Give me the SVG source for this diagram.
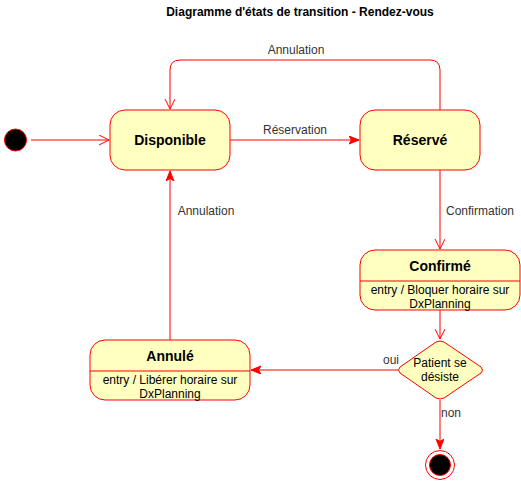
<svg xmlns="http://www.w3.org/2000/svg" width="521" height="481" viewBox="0 0 521 481">
<defs>
<style>
.st{fill:#ffffc0;stroke:#ff0000;stroke-width:1}
.ln{fill:none;stroke:#ff0000;stroke-width:1}
.t{font-family:"Liberation Sans",Arial,sans-serif;font-size:12px;fill:#000}
.b{font-family:"Liberation Sans",Arial,sans-serif;font-size:14px;font-weight:bold;fill:#000}
.lb{font-family:"Liberation Sans",Arial,sans-serif;font-size:12px;fill:#333}
</style>
<marker id="open" markerWidth="12" markerHeight="12" refX="10" refY="5" orient="auto" markerUnits="userSpaceOnUse">
<path d="M0,0 L10,5 L0,10" fill="none" stroke="#ff0000" stroke-width="1"/>
</marker>
<marker id="fill" markerWidth="12" markerHeight="12" refX="10" refY="4" orient="auto" markerUnits="userSpaceOnUse">
<path d="M0,0 L10,4 L0,8 L2.5,4 Z" fill="#ff0000" stroke="#ff0000" stroke-width="1"/>
</marker>
</defs>
<rect width="521" height="481" fill="#fff"/>
<text class="t" x="300" y="16" text-anchor="middle" font-weight="bold">Diagramme d'états de transition - Rendez-vous</text>

<g id="connectors">
<path class="ln" d="M31,140 L109,140" marker-end="url(#open)"/>
<path class="ln" d="M230,140 L359,140" marker-end="url(#fill)"/>
<text class="lb" x="295" y="134" text-anchor="middle">Réservation</text>
<path class="ln" d="M440,110 L440,70 Q440,60 430,60 L180,60 Q170,60 170,70 L170,109" marker-end="url(#open)"/>
<text class="lb" x="296" y="54" text-anchor="middle">Annulation</text>
<path class="ln" d="M440,170 L440,249" marker-end="url(#open)"/>
<text class="lb" x="480" y="215" text-anchor="middle">Confirmation</text>
<path class="ln" d="M440,310 L440,339" marker-end="url(#open)"/>
<path class="ln" d="M398,370 L251,370" marker-end="url(#fill)"/>
<text class="lb" x="391" y="364" text-anchor="middle">oui</text>
<path class="ln" d="M170,340 L170,171" marker-end="url(#fill)"/>
<text class="lb" x="206" y="215" text-anchor="middle">Annulation</text>
<path class="ln" d="M440,400 L440,449" marker-end="url(#fill)"/>
<text class="lb" x="451" y="417" text-anchor="middle">non</text>
</g>

<g id="initial">
<circle cx="15.5" cy="140" r="11" fill="#000" stroke="#ff0000" stroke-width="1"/>
</g>

<g id="disponible">
<rect class="st" x="110" y="110" width="120" height="60" rx="15" ry="15"/>
<text class="b" x="170" y="145" text-anchor="middle">Disponible</text>
</g>

<g id="reserve">
<rect class="st" x="360" y="110" width="120" height="60" rx="15" ry="15"/>
<text class="b" x="420" y="145" text-anchor="middle">Réservé</text>
</g>

<g id="confirme">
<rect class="st" x="360" y="250" width="160" height="60" rx="15" ry="15"/>
<line class="ln" x1="360" y1="281" x2="520" y2="281"/>
<text class="b" x="440" y="271" text-anchor="middle">Confirmé</text>
<text class="t" x="440" y="294" text-anchor="middle">entry / Bloquer horaire sur</text>
<text class="t" x="440" y="308" text-anchor="middle">DxPlanning</text>
</g>

<g id="annule">
<rect class="st" x="90" y="340" width="160" height="60" rx="15" ry="15"/>
<line class="ln" x1="90" y1="371" x2="250" y2="371"/>
<text class="b" x="170" y="361" text-anchor="middle">Annulé</text>
<text class="t" x="170" y="384" text-anchor="middle">entry / Libérer horaire sur</text>
<text class="t" x="170" y="398" text-anchor="middle">DxPlanning</text>
</g>

<g id="decision">
<path class="st" d="M436,342 Q440,340 444,342 L481,367 Q484,370 481,373 L444,398 Q440,400 436,398 L400,373 Q397,370 400,367 Z"/>
<text class="t" x="440" y="367" text-anchor="middle">Patient se</text>
<text class="t" x="440" y="381" text-anchor="middle">désiste</text>
</g>

<g id="final">
<circle cx="440" cy="465" r="14.5" fill="#fff" stroke="#ff0000" stroke-width="1"/>
<circle cx="440" cy="465" r="10.5" fill="#000" stroke="#ff0000" stroke-width="1"/>
</g>
</svg>
